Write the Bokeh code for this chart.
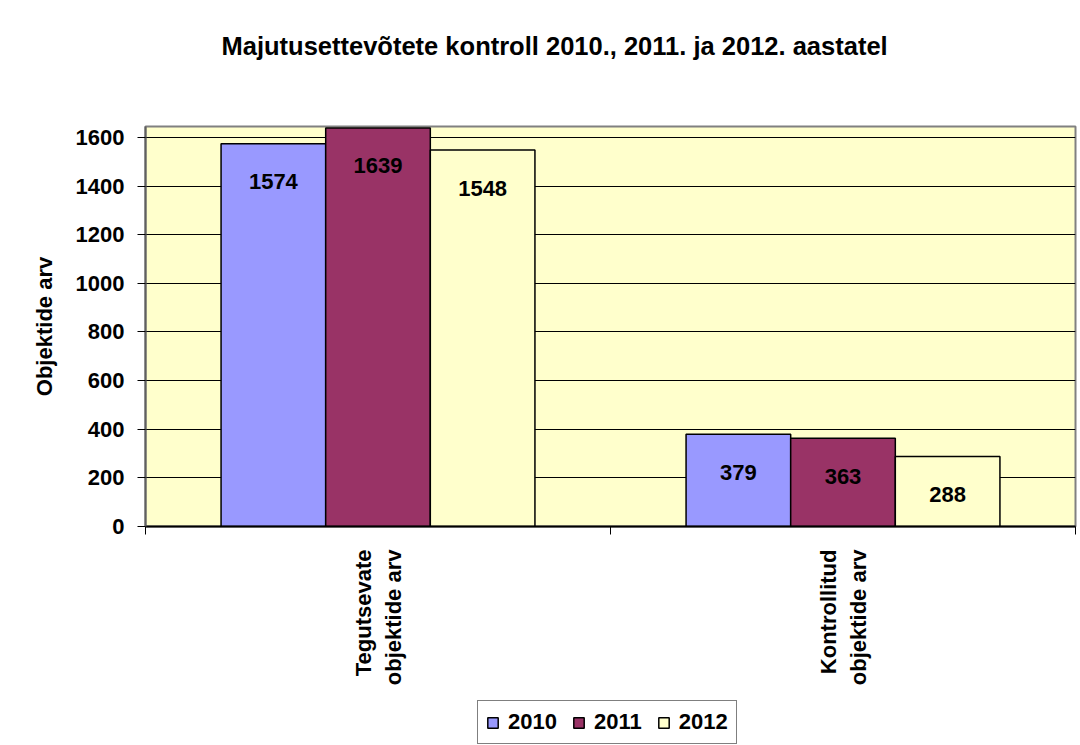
from math import pi
from bokeh.plotting import figure
from bokeh.layouts import column
from bokeh.models import (Range1d, FixedTicker, SingleIntervalTicker, Legend, LegendItem,
                          ColumnDataSource, Title)
from bokeh.transform import dodge
from bokeh.core.properties import value
from bokeh.embed import file_html
from bokeh.resources import INLINE

# ---- data ----
title_text = "Majutusettevõtete kontroll 2010.,  2011. ja 2012. aastatel"
categories = ["Tegutsevate\nobjektide arv", "Kontrollitud\nobjektide arv"]
years = ["2010", "2011", "2012"]
v2010 = [1574, 379]
v2011 = [1639, 363]
v2012 = [1548, 288]
colors = ["#9999FF", "#993366", "#FFFFCC"]
y_label = "Objektide arv"
y_max = 1645
y_step = 200

FONT = "Liberation Sans"
W, H1, H2 = 1080, 700, 45
BW = 0.225

n = len(categories)
centers = [i + 0.5 for i in range(n)]
series = [v2010, v2011, v2012]
data = dict(xc=centers)
for yr, vals in zip(years, series):
    data["y" + yr] = vals
    data["t" + yr] = [str(v) for v in vals]
src = ColumnDataSource(data)

p = figure(width=W, height=H1, x_range=Range1d(0, n),
           y_range=Range1d(0, y_max), output_backend="svg", toolbar_location=None,
           min_border_left=145, min_border_top=126, min_border_bottom=174, min_border_right=5,
           background_fill_color="#FFFFCC", border_fill_color="white",
           outline_line_color="#808080", outline_line_width=2)

p.xgrid.visible = False

# y axis
ticker = SingleIntervalTicker(interval=y_step)
p.yaxis.ticker = ticker
p.yaxis.major_tick_out = 8
p.yaxis.major_tick_in = 0
p.yaxis.minor_tick_out = 0
p.yaxis.minor_tick_in = 0
p.yaxis.axis_line_color = "#606060"
p.yaxis.axis_line_width = 2
p.yaxis.major_tick_line_color = "black"
p.yaxis.major_label_standoff = 13
p.yaxis.major_label_text_font = FONT
p.yaxis.major_label_text_font_style = "bold"
p.yaxis.major_label_text_font_size = "22px"
p.yaxis.major_label_text_color = "black"
p.yaxis.axis_label = y_label
p.yaxis.axis_label_text_font = FONT
p.yaxis.axis_label_text_font_style = "bold"
p.yaxis.axis_label_text_font_size = "22px"
p.yaxis.axis_label_text_color = "black"
p.yaxis.axis_label_standoff = 16

p.ygrid.ticker = ticker
p.ygrid.grid_line_color = "black"
p.ygrid.grid_line_width = 1

# x axis: labels at category centres, tick marks at category boundaries
xa = p.xaxis[0]
xa.ticker = FixedTicker(ticks=centers, minor_ticks=list(range(n + 1)))
xa.major_label_overrides = {c: lab for c, lab in zip(centers, categories)}
xa.major_label_orientation = pi / 2
xa.major_tick_out = 0
xa.major_tick_in = 0
xa.minor_tick_out = 8
xa.minor_tick_in = 0
xa.minor_tick_line_color = "black"
xa.axis_line_color = "black"
xa.axis_line_width = 2
xa.major_label_standoff = 15
xa.major_label_text_font = FONT
xa.major_label_text_font_style = "bold"
xa.major_label_text_font_size = "22px"
xa.major_label_text_color = "black"

# bars + value labels
for i, yr in enumerate(years):
    off = (i - 1) * BW
    p.vbar(x=dodge("xc", off), top="y" + yr, width=BW, source=src,
           fill_color=colors[i], line_color="black", line_width=1.5)
    p.text(x=dodge("xc", off), y="y" + yr, text="t" + yr, source=src,
           text_align="center", text_baseline="middle", y_offset=38,
           text_font=value(FONT), text_font_style="bold", text_font_size="22px",
           text_color="black")

# spacer between the frame and the title
p.add_layout(Title(text=" ", text_font_size="1px", standoff=64), "above")

# title (outermost in the top panel)
p.title.text = title_text
p.title.align = "left"
p.title.offset = 76
p.title.standoff = 0
p.title.text_font = FONT
p.title.text_font_style = "bold"
p.title.text_font_size = "25.5px"
p.title.text_color = "black"

# legend strip below the chart (its frame is aligned with the chart's frame)
p2 = figure(width=W, height=H2, x_range=Range1d(0, 1), y_range=Range1d(0, 1),
            output_backend="svg", toolbar_location=None,
            x_axis_location=None, y_axis_location=None,
            min_border_left=0, min_border_right=0, min_border_top=0, min_border_bottom=0,
            background_fill_color="white", border_fill_color="white", outline_line_color=None)
p2.grid.visible = False
# legend swatches only: rows with no drawable value, so nothing is drawn in the strip
swatch_src = ColumnDataSource(dict(x=[0.5], top=[float("nan")]))
items = []
for i, yr in enumerate(years):
    r = p2.vbar(x="x", top="top", width=BW, source=swatch_src,
                fill_color=colors[i], line_color="black", line_width=1.5)
    items.append(LegendItem(label=yr, renderers=[r]))

legend = Legend(items=items, orientation="horizontal", location=(332, 1),
                border_line_color="black", border_line_width=1,
                background_fill_color="white", background_fill_alpha=1,
                label_text_font=FONT, label_text_font_style="bold", label_text_font_size="22px",
                label_text_color="black",
                glyph_width=13, glyph_height=13, label_standoff=9, spacing=15,
                padding=8, margin=0)
p2.add_layout(legend, "center")

layout = column(p, p2, spacing=0)
open("out.html", "w").write(file_html(layout, INLINE))
